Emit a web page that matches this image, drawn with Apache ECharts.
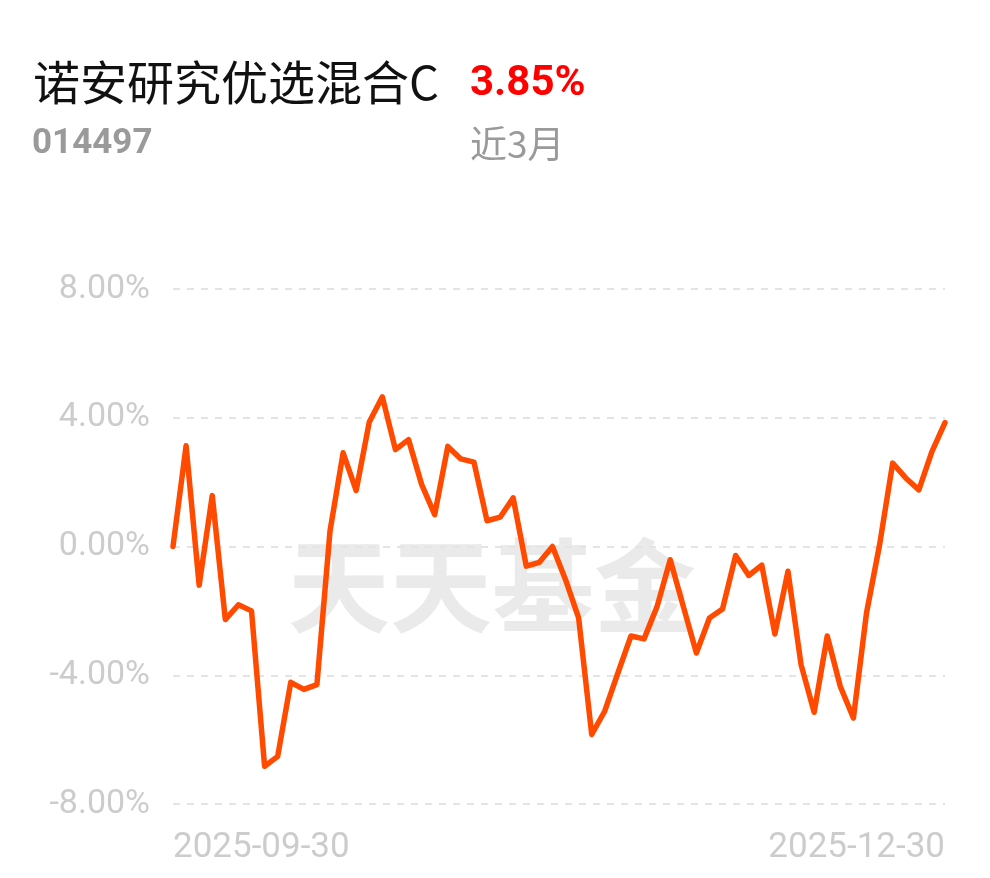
<!DOCTYPE html>
<html>
<head>
<meta charset="utf-8">
<script src="https://cdn.jsdelivr.net/npm/echarts@6/dist/echarts.min.js"></script>
<style>
html,body{margin:0;padding:0;background:#fff;}
#chart{width:990px;height:878px;}
</style>
</head>
<body>
<div id="chart"></div>
<script>
var fundName = '诺安研究优选混合C';
var fundCode = '014497';
var periodReturn = '3.85%';
var periodLabel = '近3月';
var watermark = '天天基金';

var dates = [
  '2025-09-30','2025-10-09','2025-10-10','2025-10-13','2025-10-14','2025-10-15','2025-10-16','2025-10-17',
  '2025-10-20','2025-10-21','2025-10-22','2025-10-23','2025-10-24','2025-10-27','2025-10-28','2025-10-29',
  '2025-10-30','2025-10-31','2025-11-03','2025-11-04','2025-11-05','2025-11-06','2025-11-07','2025-11-10',
  '2025-11-11','2025-11-12','2025-11-13','2025-11-14','2025-11-17','2025-11-18','2025-11-19','2025-11-20',
  '2025-11-21','2025-11-24','2025-11-25','2025-11-26','2025-11-27','2025-11-28','2025-12-01','2025-12-02',
  '2025-12-03','2025-12-04','2025-12-05','2025-12-08','2025-12-09','2025-12-10','2025-12-11','2025-12-12',
  '2025-12-15','2025-12-16','2025-12-17','2025-12-18','2025-12-19','2025-12-22','2025-12-23','2025-12-24',
  '2025-12-25','2025-12-26','2025-12-29','2025-12-30'
];

var returns = [
  0.00, 3.13, -1.20, 1.58, -2.27, -1.81, -2.00, -6.83, -6.52, -4.22,
  -4.44, -4.29, 0.48, 2.91, 1.74, 3.87, 4.65, 3.01, 3.32, 1.93,
  0.99, 3.11, 2.72, 2.62, 0.80, 0.91, 1.51, -0.61, -0.49, 0.00,
  -1.03, -2.22, -5.84, -5.11, -3.93, -2.78, -2.87, -1.86, -0.41, -1.86,
  -3.31, -2.22, -1.94, -0.28, -0.90, -0.58, -2.72, -0.77, -3.67, -5.15,
  -2.78, -4.35, -5.33, -2.07, 0.05, 2.59, 2.13, 1.76, 2.95, 3.85
];

var yTicks = [-8, -4, 0, 4, 8];

var chart = echarts.init(document.getElementById('chart'), null, {renderer: 'canvas'});

var option = {
  backgroundColor: '#ffffff',
  animation: false,
  grid: {left: 173, right: 45, top: 289, bottom: 74, containLabel: false},
  graphic: [
    {type: 'text', left: 33, top: 59, z: 10, style: {text: fundName, fontSize: 47, fontFamily: 'Noto Sans CJK SC', fill: '#111111'}},
    {type: 'text', left: 470, top: 63, z: 10, style: {text: periodReturn, fontSize: 42, fontWeight: 'bold', fontFamily: 'Roboto', fill: '#ff0000'}},
    {type: 'text', left: 32, top: 127, z: 10, style: {text: fundCode, fontSize: 35, fontWeight: 'bold', fontFamily: 'Roboto', fill: '#9a9a9a'}},
    {type: 'text', left: 470, top: 125, z: 10, style: {text: periodLabel, fontSize: 37, fontFamily: 'Noto Sans CJK SC', fill: '#9a9a9a'}},
    {type: 'text', left: 288, top: 535, z: 0, silent: true, style: {text: watermark, fontSize: 102, fontWeight: 'bold', fontFamily: 'Noto Sans CJK SC', fill: '#eaeaea'}}
  ],
  xAxis: {
    type: 'category',
    data: dates,
    boundaryGap: false,
    axisLine: {show: false},
    axisTick: {show: false},
    splitLine: {show: false},
    axisLabel: {
      interval: function (idx) { return idx === 0 || idx === dates.length - 1; },
      alignMinLabel: 'left',
      alignMaxLabel: 'right',
      color: '#cccccc',
      fontSize: 35,
      fontFamily: 'Roboto',
      margin: 27
    }
  },
  yAxis: {
    type: 'value',
    min: yTicks[0],
    max: yTicks[yTicks.length - 1],
    interval: 4,
    axisLine: {show: false},
    axisTick: {show: false},
    axisLabel: {
      color: '#cccccc',
      fontSize: 34,
      fontFamily: 'Roboto',
      margin: 23,
      formatter: function (v) { return v.toFixed(2) + '%'; }
    },
    splitLine: {show: true, lineStyle: {color: '#e4e4e4', width: 2, type: [7, 7]}}
  },
  series: [{
    type: 'line',
    data: returns,
    symbol: 'none',
    smooth: false,
    z: 5,
    lineStyle: {color: '#ff4a00', width: 5.5, join: 'round', cap: 'round'}
  }]
};
chart.setOption(option);
</script>
</body>
</html>
